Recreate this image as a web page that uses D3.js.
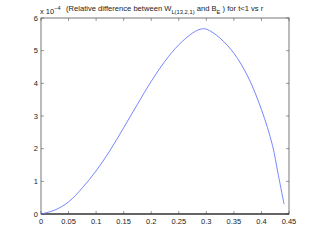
<!DOCTYPE html>
<html>
<head>
<meta charset="utf-8">
<script src="https://cdn.jsdelivr.net/npm/d3@7"></script>
<style>
  body { margin: 0; background: #fff; }
  text { font-family: "Liberation Sans", Arial, sans-serif; fill: #222; }
</style>
</head>
<body>
<svg width="320" height="241"></svg>
<script>
// r values and relative difference (x 1e-4)
const rVals = [0, 0.025, 0.05, 0.075, 0.1, 0.125, 0.15, 0.175, 0.2, 0.225, 0.25, 0.275, 0.29, 0.3, 0.325, 0.35, 0.375, 0.4, 0.42, 0.43, 0.441]
const diffVals = [0, 0.12, 0.37, 0.8, 1.32, 1.94, 2.64, 3.36, 4.06, 4.68, 5.18, 5.54, 5.66, 5.66, 5.38, 4.92, 4.22, 3.2, 2.1, 1.25, 0.3]
const xTicks = [0, 0.05, 0.1, 0.15, 0.2, 0.25, 0.3, 0.35, 0.4, 0.45]
const yTicks = [0, 1, 2, 3, 4, 5, 6]

const svg = d3.select("svg")
const margin = { left: 41, right: 31, top: 18, bottom: 27 }
const width = +svg.attr("width")
const height = +svg.attr("height")

const x = d3.scaleLinear().domain([0, 0.45]).range([margin.left, width - margin.right])
const y = d3.scaleLinear().domain([0, 6]).range([height - margin.bottom, margin.top])

const tick = 3

// ticks on all four sides, pointing inward
const g = svg.append("g")
xTicks.forEach(t => {
  g.append("line").attr("x1", x(t)).attr("x2", x(t))
    .attr("y1", y(0)).attr("y2", y(0) - tick).attr("stroke", "#555").attr("stroke-width", 0.6)
  g.append("line").attr("x1", x(t)).attr("x2", x(t))
    .attr("y1", y(6)).attr("y2", y(6) + tick).attr("stroke", "#555").attr("stroke-width", 0.6)
  g.append("text").attr("x", x(t)).attr("y", y(0) + 10)
    .attr("text-anchor", "middle").attr("font-size", 7.5).text(t)
})
yTicks.forEach(t => {
  g.append("line").attr("x1", x(0)).attr("x2", x(0) + tick)
    .attr("y1", y(t)).attr("y2", y(t)).attr("stroke", "#555").attr("stroke-width", 0.6)
  g.append("line").attr("x1", x(0.45)).attr("x2", x(0.45) - tick)
    .attr("y1", y(t)).attr("y2", y(t)).attr("stroke", "#555").attr("stroke-width", 0.6)
  g.append("text").attr("x", x(0) - 3).attr("y", y(t) + 2.5)
    .attr("text-anchor", "end").attr("font-size", 7.5).text(t)
})

// box
svg.append("rect")
  .attr("x", x(0)).attr("y", y(6))
  .attr("width", x(0.45) - x(0)).attr("height", y(0) - y(6))
  .attr("fill", "none").attr("stroke", "#555").attr("stroke-width", 0.8)
svg.append("line").attr("x1", x(0)).attr("x2", x(0.45))
  .attr("y1", y(0)).attr("y2", y(0)).attr("stroke", "#111").attr("stroke-width", 1.2)

// curve
const line = d3.line()
  .x((d, i) => x(rVals[i]))
  .y(d => y(d))
  .curve(d3.curveCatmullRom.alpha(0.5))

svg.append("path")
  .datum(diffVals)
  .attr("d", line)
  .attr("fill", "none")
  .attr("stroke", "#6678ff")
  .attr("stroke-width", 0.9)

// exponent label
const ex = svg.append("text").attr("x", 40).attr("y", 14).attr("font-size", 7.5)
ex.append("tspan").text("x 10")
ex.append("tspan").attr("dy", -4).attr("font-size", 5.5).text("−4")

// title
const title = svg.append("text").attr("x", 66).attr("y", 11).attr("font-size", 7.6)
title.append("tspan").text("(Relative difference between W")
title.append("tspan").attr("dy", 2.5).attr("font-size", 5.8).text("L(13,2,1)")
title.append("tspan").attr("dy", -2.5).text(" and B")
title.append("tspan").attr("dy", 2.5).attr("font-size", 5.8).text("E")
title.append("tspan").attr("dy", -2.5).text(" ) for t<1  vs r")
</script>
</body>
</html>
